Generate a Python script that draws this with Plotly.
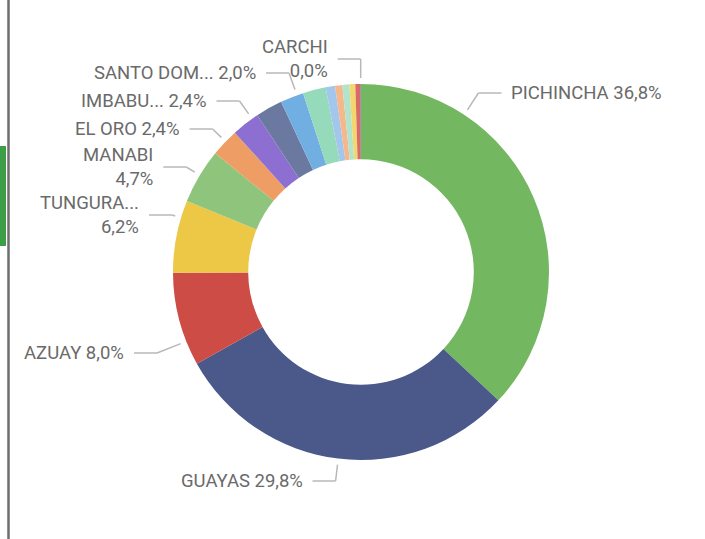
"""
Donut chart: share by province (Power BI style, labels with leader lines).
"""
import math
import plotly.graph_objects as go

W, H = 705, 539

# data, in the order drawn (clockwise from 12 o'clock)
provinces = ["PICHINCHA", "GUAYAS", "AZUAY", "TUNGURAHUA", "MANABI", "EL ORO",
             "IMBABURA", "LOJA", "SANTO DOMINGO", "CHIMBORAZO", "COTOPAXI",
             "LOS RIOS", "ESMERALDAS", "SANTA ELENA", "CAÑAR", "CARCHI"]
shares = [36.8, 29.8, 8.0, 6.2, 4.7, 2.4,
          2.4, 2.3, 2.0, 1.96, 0.8,
          0.62, 0.6, 0.5, 0.44, 0.04]
colors = ["#73B761", "#4A588A", "#CD4C46", "#ECC846", "#8FC47C", "#EE9E64",
          "#8D6FD1", "#6B78A0", "#71AFE2", "#95DABB", "#A3C6EC",
          "#F5B88C", "#B2E3CB", "#F2D66E", "#D86B67", "#7A5FC0"]

# labels shown on the chart (Power BI truncates long names)
label_names = {
    "PICHINCHA": "PICHINCHA",
    "GUAYAS": "GUAYAS",
    "AZUAY": "AZUAY",
    "TUNGURAHUA": "TUNGURA...",
    "MANABI": "MANABI",
    "EL ORO": "EL ORO",
    "IMBABURA": "IMBABU...",
    "SANTO DOMINGO": "SANTO DOM...",
    "CARCHI": "CARCHI",
}
# label layout: where in the slice the leader starts (0..1), label row y in px,
# side, and whether name and value wrap onto two lines
label_layout = {
    "PICHINCHA":     (0.25, 93,  "right", False),
    "GUAYAS":        (0.50, 481, "left",  False),
    "AZUAY":         (0.26, 353, "left",  False),
    "TUNGURAHUA":    (0.76, 215, "left",  True),
    "MANABI":        (0.52, 167, "left",  True),
    "EL ORO":        (0.55, 129, "left",  False),
    "IMBABURA":      (0.78, 101, "left",  False),
    "SANTO DOMINGO": (0.73, 73,  "left",  False),
    "CARCHI":        (0.40, 59,  "left",  True),
}

CX, CY, R = 361, 272, 188
HOLE = 0.6
GAP = 6          # gap between ring and leader start
ARM = 23         # horizontal leader length
PAD = 8          # leader end to text

TEXT_COLOR = "#6A6A6A"
LEADER_COLOR = "#B8B8B8"
FONT = "Roboto"
FONT_SIZE = 18.5


def px(x):
    return x / W


def py(y):
    return 1 - y / H


def polar(angle_deg, r):
    a = math.radians(angle_deg)
    return CX + r * math.sin(a), CY - r * math.cos(a)


fig = go.Figure(go.Pie(
    labels=provinces, values=shares, sort=False, direction="clockwise",
    rotation=0, hole=HOLE, textinfo="none", hoverinfo="label+percent",
    marker=dict(colors=colors, line=dict(width=0)),
    domain=dict(x=[px(CX - R), px(CX + R)], y=[py(CY + R), py(CY - R)]),
    showlegend=False,
))

total = sum(shares)
cum = 0.0
shapes, annotations = [], []
for name, val in zip(provinces, shares):
    a0 = 360 * cum / total
    a1 = 360 * (cum + val) / total
    cum += val
    if name not in label_layout:
        continue
    frac, ly, side, wrap = label_layout[name]
    ang = a0 + frac * (a1 - a0)
    x0, y0 = polar(ang, R + GAP)
    # extend radially until the label row
    dy = -math.cos(math.radians(ang))
    dx = math.sin(math.radians(ang))
    t = (ly - y0) / dy if abs(dy) > 1e-6 else 16
    x1, y1 = x0 + t * dx, y0 + t * dy
    x2 = x1 + ARM if side == "right" else x1 - ARM
    for (xa, ya, xb, yb) in [(x0, y0, x1, y1), (x1, y1, x2, y1)]:
        shapes.append(dict(type="line", xref="paper", yref="paper",
                           x0=px(xa), y0=py(ya), x1=px(xb), y1=py(yb),
                           line=dict(color=LEADER_COLOR, width=1.5)))
    pct = f"{val:.1f}%".replace(".", ",")
    text = label_names[name] + ("<br>" if wrap else " ") + pct
    tx = x2 + PAD if side == "right" else x2 - PAD
    annotations.append(dict(
        x=px(tx), y=py(y1), xref="paper", yref="paper", text=text,
        showarrow=False, xanchor="left" if side == "right" else "right",
        yanchor="middle", align="left" if side == "right" else "right",
        font=dict(family=FONT, size=FONT_SIZE, color=TEXT_COLOR),
    ))

# report frame remnants on the left edge
shapes.append(dict(type="rect", xref="paper", yref="paper",
                   x0=px(0), x1=px(6), y0=py(246), y1=py(146),
                   fillcolor="#3C9E47", line=dict(width=0), layer="below"))
shapes.append(dict(type="line", xref="paper", yref="paper",
                   x0=px(8.5), x1=px(8.5), y0=0, y1=1,
                   line=dict(color="#6E6E6E", width=2.5)))

fig.update_layout(
    width=W, height=H,
    margin=dict(l=0, r=0, t=0, b=0),
    paper_bgcolor="white", plot_bgcolor="white",
    shapes=shapes, annotations=annotations,
)

fig.write_html("out.html", config={"displayModeBar": False},
               post_script="document.body.style.margin='0px';")
